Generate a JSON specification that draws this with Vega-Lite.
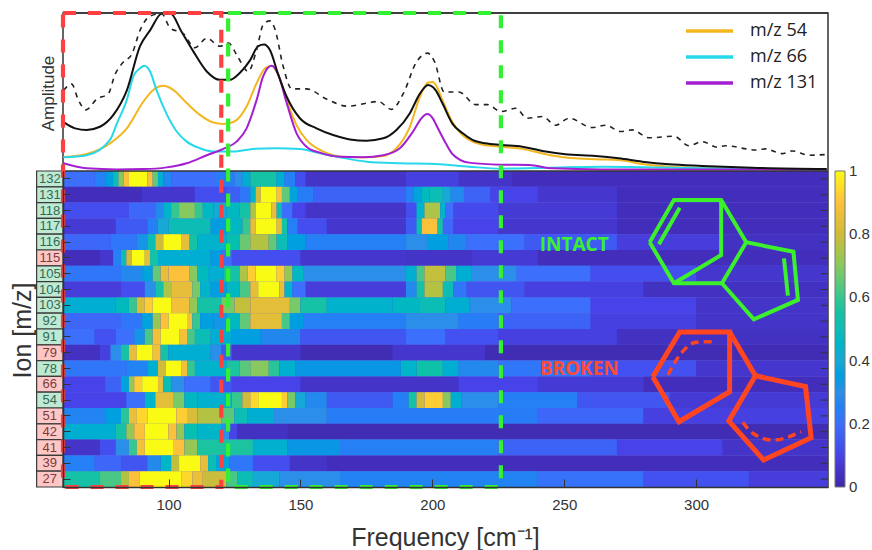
{
"$schema":"https://vega.github.io/schema/vega-lite/v6.json",
"width":765,"height":474,"autosize":{"type":"none"},"padding":{"left":63,"top":13,"right":44,"bottom":63},
"background":"white",
"config":{"view":{"stroke":"#333","strokeWidth":1.5,"fill":"#ffffff"},"font":"Liberation Sans"},
"datasets":{
"ions":[{"m":"132","k":"intact"},{"m":"131","k":"intact"},{"m":"118","k":"intact"},{"m":"117","k":"intact"},{"m":"116","k":"intact"},{"m":"115","k":"broken"},{"m":"105","k":"intact"},{"m":"104","k":"intact"},{"m":"103","k":"intact"},{"m":"92","k":"intact"},{"m":"91","k":"intact"},{"m":"79","k":"broken"},{"m":"78","k":"intact"},{"m":"66","k":"broken"},{"m":"54","k":"intact"},{"m":"51","k":"broken"},{"m":"42","k":"broken"},{"m":"41","k":"broken"},{"m":"39","k":"broken"},{"m":"27","k":"broken"}],
"cells":[
{"m":"132","a":60,"b":72,"v":0.2},{"m":"132","a":72,"b":76,"v":0.25},{"m":"132","a":76,"b":79,"v":0.35},{"m":"132","a":79,"b":81,"v":0.5},{"m":"132","a":81,"b":83,"v":0.7},{"m":"132","a":83,"b":85,"v":0.9},{"m":"132","a":85,"b":92,"v":1},{"m":"132","a":92,"b":94,"v":0.9},{"m":"132","a":94,"b":96,"v":0.65},{"m":"132","a":96,"b":98,"v":0.42},{"m":"132","a":98,"b":101,"v":0.27},{"m":"132","a":101,"b":118,"v":0.2},{"m":"132","a":118,"b":125,"v":0.24},{"m":"132","a":125,"b":128,"v":0.3},{"m":"132","a":128,"b":131,"v":0.42},{"m":"132","a":131,"b":141,"v":0.55},{"m":"132","a":141,"b":144,"v":0.42},{"m":"132","a":144,"b":148,"v":0.25},{"m":"132","a":148,"b":152,"v":0.12},{"m":"132","a":152,"b":190,"v":0.05},{"m":"132","a":190,"b":210,"v":0.09},{"m":"132","a":210,"b":230,"v":0.05},{"m":"132","a":230,"b":350,"v":0.03},
{"m":"131","a":60,"b":90,"v":0.03},{"m":"131","a":90,"b":110,"v":0.06},{"m":"131","a":110,"b":122,"v":0.12},{"m":"131","a":122,"b":127,"v":0.16},{"m":"131","a":127,"b":131,"v":0.22},{"m":"131","a":131,"b":133,"v":0.45},{"m":"131","a":133,"b":135,"v":0.8},{"m":"131","a":135,"b":141,"v":1},{"m":"131","a":141,"b":143,"v":0.9},{"m":"131","a":143,"b":146,"v":0.65},{"m":"131","a":146,"b":149,"v":0.38},{"m":"131","a":149,"b":155,"v":0.24},{"m":"131","a":155,"b":190,"v":0.17},{"m":"131","a":190,"b":193,"v":0.25},{"m":"131","a":193,"b":196,"v":0.38},{"m":"131","a":196,"b":199,"v":0.48},{"m":"131","a":199,"b":204,"v":0.5},{"m":"131","a":204,"b":207,"v":0.4},{"m":"131","a":207,"b":212,"v":0.28},{"m":"131","a":212,"b":222,"v":0.17},{"m":"131","a":222,"b":240,"v":0.1},{"m":"131","a":240,"b":270,"v":0.06},{"m":"131","a":270,"b":350,"v":0.03},
{"m":"118","a":60,"b":85,"v":0.12},{"m":"118","a":85,"b":95,"v":0.18},{"m":"118","a":95,"b":98,"v":0.28},{"m":"118","a":98,"b":101,"v":0.45},{"m":"118","a":101,"b":104,"v":0.6},{"m":"118","a":104,"b":110,"v":0.7},{"m":"118","a":110,"b":113,"v":0.6},{"m":"118","a":113,"b":117,"v":0.47},{"m":"118","a":117,"b":122,"v":0.4},{"m":"118","a":122,"b":127,"v":0.47},{"m":"118","a":127,"b":131,"v":0.55},{"m":"118","a":131,"b":133,"v":0.75},{"m":"118","a":133,"b":139,"v":1},{"m":"118","a":139,"b":141,"v":0.85},{"m":"118","a":141,"b":143,"v":0.5},{"m":"118","a":143,"b":147,"v":0.2},{"m":"118","a":147,"b":152,"v":0.1},{"m":"118","a":152,"b":190,"v":0.05},{"m":"118","a":190,"b":194,"v":0.12},{"m":"118","a":194,"b":197,"v":0.45},{"m":"118","a":197,"b":203,"v":0.75},{"m":"118","a":203,"b":205,"v":0.45},{"m":"118","a":205,"b":208,"v":0.2},{"m":"118","a":208,"b":225,"v":0.11},{"m":"118","a":225,"b":270,"v":0.07},{"m":"118","a":270,"b":350,"v":0.03},
{"m":"117","a":60,"b":80,"v":0.07},{"m":"117","a":80,"b":92,"v":0.15},{"m":"117","a":92,"b":96,"v":0.25},{"m":"117","a":96,"b":100,"v":0.4},{"m":"117","a":100,"b":116,"v":0.5},{"m":"117","a":116,"b":122,"v":0.35},{"m":"117","a":122,"b":128,"v":0.47},{"m":"117","a":128,"b":131,"v":0.6},{"m":"117","a":131,"b":133,"v":0.85},{"m":"117","a":133,"b":141,"v":1},{"m":"117","a":141,"b":143,"v":0.85},{"m":"117","a":143,"b":145,"v":0.55},{"m":"117","a":145,"b":149,"v":0.25},{"m":"117","a":149,"b":160,"v":0.12},{"m":"117","a":160,"b":190,"v":0.06},{"m":"117","a":190,"b":194,"v":0.15},{"m":"117","a":194,"b":196,"v":0.5},{"m":"117","a":196,"b":202,"v":0.9},{"m":"117","a":202,"b":204,"v":0.55},{"m":"117","a":204,"b":208,"v":0.18},{"m":"117","a":208,"b":225,"v":0.1},{"m":"117","a":225,"b":270,"v":0.06},{"m":"117","a":270,"b":350,"v":0.03},
{"m":"116","a":60,"b":78,"v":0.18},{"m":"116","a":78,"b":88,"v":0.22},{"m":"116","a":88,"b":92,"v":0.32},{"m":"116","a":92,"b":95,"v":0.5},{"m":"116","a":95,"b":98,"v":0.8},{"m":"116","a":98,"b":105,"v":1},{"m":"116","a":105,"b":108,"v":0.85},{"m":"116","a":108,"b":111,"v":0.55},{"m":"116","a":111,"b":122,"v":0.44},{"m":"116","a":122,"b":127,"v":0.52},{"m":"116","a":127,"b":131,"v":0.66},{"m":"116","a":131,"b":138,"v":0.76},{"m":"116","a":138,"b":141,"v":0.65},{"m":"116","a":141,"b":145,"v":0.5},{"m":"116","a":145,"b":152,"v":0.36},{"m":"116","a":152,"b":190,"v":0.25},{"m":"116","a":190,"b":198,"v":0.3},{"m":"116","a":198,"b":206,"v":0.36},{"m":"116","a":206,"b":213,"v":0.27},{"m":"116","a":213,"b":235,"v":0.2},{"m":"116","a":235,"b":270,"v":0.15},{"m":"116","a":270,"b":310,"v":0.08},{"m":"116","a":310,"b":350,"v":0.04},
{"m":"115","a":60,"b":74,"v":0.03},{"m":"115","a":74,"b":79,"v":0.06},{"m":"115","a":79,"b":82,"v":0.25},{"m":"115","a":82,"b":84,"v":0.5},{"m":"115","a":84,"b":86,"v":0.8},{"m":"115","a":86,"b":91,"v":1},{"m":"115","a":91,"b":93,"v":0.85},{"m":"115","a":93,"b":96,"v":0.55},{"m":"115","a":96,"b":116,"v":0.42},{"m":"115","a":116,"b":120,"v":0.35},{"m":"115","a":120,"b":124,"v":0.2},{"m":"115","a":124,"b":150,"v":0.12},{"m":"115","a":150,"b":190,"v":0.06},{"m":"115","a":190,"b":215,"v":0.05},{"m":"115","a":215,"b":240,"v":0.07},{"m":"115","a":240,"b":350,"v":0.03},
{"m":"105","a":60,"b":82,"v":0.22},{"m":"105","a":82,"b":90,"v":0.28},{"m":"105","a":90,"b":94,"v":0.38},{"m":"105","a":94,"b":97,"v":0.65},{"m":"105","a":97,"b":100,"v":0.85},{"m":"105","a":100,"b":108,"v":0.9},{"m":"105","a":108,"b":111,"v":0.7},{"m":"105","a":111,"b":115,"v":0.48},{"m":"105","a":115,"b":121,"v":0.42},{"m":"105","a":121,"b":127,"v":0.55},{"m":"105","a":127,"b":130,"v":0.75},{"m":"105","a":130,"b":133,"v":0.92},{"m":"105","a":133,"b":141,"v":1},{"m":"105","a":141,"b":144,"v":0.92},{"m":"105","a":144,"b":147,"v":0.72},{"m":"105","a":147,"b":151,"v":0.47},{"m":"105","a":151,"b":190,"v":0.3},{"m":"105","a":190,"b":194,"v":0.42},{"m":"105","a":194,"b":197,"v":0.62},{"m":"105","a":197,"b":205,"v":0.78},{"m":"105","a":205,"b":209,"v":0.62},{"m":"105","a":209,"b":215,"v":0.42},{"m":"105","a":215,"b":232,"v":0.3},{"m":"105","a":232,"b":260,"v":0.2},{"m":"105","a":260,"b":300,"v":0.12},{"m":"105","a":300,"b":350,"v":0.06},
{"m":"104","a":60,"b":82,"v":0.08},{"m":"104","a":82,"b":91,"v":0.12},{"m":"104","a":91,"b":95,"v":0.3},{"m":"104","a":95,"b":98,"v":0.55},{"m":"104","a":98,"b":101,"v":0.75},{"m":"104","a":101,"b":109,"v":0.85},{"m":"104","a":109,"b":112,"v":0.68},{"m":"104","a":112,"b":116,"v":0.45},{"m":"104","a":116,"b":122,"v":0.36},{"m":"104","a":122,"b":127,"v":0.47},{"m":"104","a":127,"b":131,"v":0.62},{"m":"104","a":131,"b":134,"v":0.85},{"m":"104","a":134,"b":142,"v":1},{"m":"104","a":142,"b":144,"v":0.85},{"m":"104","a":144,"b":147,"v":0.45},{"m":"104","a":147,"b":152,"v":0.2},{"m":"104","a":152,"b":190,"v":0.08},{"m":"104","a":190,"b":194,"v":0.28},{"m":"104","a":194,"b":197,"v":0.55},{"m":"104","a":197,"b":204,"v":0.76},{"m":"104","a":204,"b":208,"v":0.5},{"m":"104","a":208,"b":213,"v":0.22},{"m":"104","a":213,"b":235,"v":0.14},{"m":"104","a":235,"b":280,"v":0.09},{"m":"104","a":280,"b":350,"v":0.04},
{"m":"103","a":60,"b":80,"v":0.42},{"m":"103","a":80,"b":85,"v":0.48},{"m":"103","a":85,"b":88,"v":0.6},{"m":"103","a":88,"b":91,"v":0.82},{"m":"103","a":91,"b":94,"v":0.92},{"m":"103","a":94,"b":101,"v":1},{"m":"103","a":101,"b":108,"v":0.88},{"m":"103","a":108,"b":111,"v":0.72},{"m":"103","a":111,"b":120,"v":0.55},{"m":"103","a":120,"b":125,"v":0.68},{"m":"103","a":125,"b":131,"v":0.78},{"m":"103","a":131,"b":146,"v":0.84},{"m":"103","a":146,"b":150,"v":0.68},{"m":"103","a":150,"b":160,"v":0.55},{"m":"103","a":160,"b":185,"v":0.44},{"m":"103","a":185,"b":195,"v":0.47},{"m":"103","a":195,"b":205,"v":0.5},{"m":"103","a":205,"b":214,"v":0.42},{"m":"103","a":214,"b":230,"v":0.3},{"m":"103","a":230,"b":260,"v":0.2},{"m":"103","a":260,"b":300,"v":0.1},{"m":"103","a":300,"b":350,"v":0.05},
{"m":"92","a":60,"b":82,"v":0.18},{"m":"92","a":82,"b":90,"v":0.22},{"m":"92","a":90,"b":94,"v":0.38},{"m":"92","a":94,"b":97,"v":0.72},{"m":"92","a":97,"b":100,"v":0.9},{"m":"92","a":100,"b":107,"v":1},{"m":"92","a":107,"b":109,"v":0.88},{"m":"92","a":109,"b":112,"v":0.6},{"m":"92","a":112,"b":117,"v":0.36},{"m":"92","a":117,"b":122,"v":0.32},{"m":"92","a":122,"b":127,"v":0.47},{"m":"92","a":127,"b":131,"v":0.65},{"m":"92","a":131,"b":143,"v":0.84},{"m":"92","a":143,"b":146,"v":0.62},{"m":"92","a":146,"b":151,"v":0.35},{"m":"92","a":151,"b":190,"v":0.25},{"m":"92","a":190,"b":210,"v":0.3},{"m":"92","a":210,"b":225,"v":0.24},{"m":"92","a":225,"b":260,"v":0.17},{"m":"92","a":260,"b":300,"v":0.09},{"m":"92","a":300,"b":350,"v":0.05},
{"m":"91","a":60,"b":72,"v":0.2},{"m":"91","a":72,"b":80,"v":0.13},{"m":"91","a":80,"b":87,"v":0.2},{"m":"91","a":87,"b":91,"v":0.32},{"m":"91","a":91,"b":94,"v":0.62},{"m":"91","a":94,"b":97,"v":0.88},{"m":"91","a":97,"b":104,"v":1},{"m":"91","a":104,"b":107,"v":0.88},{"m":"91","a":107,"b":110,"v":0.62},{"m":"91","a":110,"b":116,"v":0.5},{"m":"91","a":116,"b":124,"v":0.42},{"m":"91","a":124,"b":135,"v":0.36},{"m":"91","a":135,"b":150,"v":0.27},{"m":"91","a":150,"b":190,"v":0.14},{"m":"91","a":190,"b":205,"v":0.2},{"m":"91","a":205,"b":225,"v":0.13},{"m":"91","a":225,"b":270,"v":0.09},{"m":"91","a":270,"b":350,"v":0.04},
{"m":"79","a":60,"b":74,"v":0.04},{"m":"79","a":74,"b":78,"v":0.09},{"m":"79","a":78,"b":82,"v":0.3},{"m":"79","a":82,"b":85,"v":0.55},{"m":"79","a":85,"b":88,"v":0.85},{"m":"79","a":88,"b":94,"v":1},{"m":"79","a":94,"b":97,"v":0.88},{"m":"79","a":97,"b":100,"v":0.55},{"m":"79","a":100,"b":116,"v":0.42},{"m":"79","a":116,"b":120,"v":0.3},{"m":"79","a":120,"b":124,"v":0.15},{"m":"79","a":124,"b":150,"v":0.06},{"m":"79","a":150,"b":185,"v":0.02},{"m":"79","a":185,"b":220,"v":0.06},{"m":"79","a":220,"b":350,"v":0.02},
{"m":"78","a":60,"b":84,"v":0.22},{"m":"78","a":84,"b":92,"v":0.26},{"m":"78","a":92,"b":96,"v":0.42},{"m":"78","a":96,"b":99,"v":0.8},{"m":"78","a":99,"b":105,"v":1},{"m":"78","a":105,"b":107,"v":0.88},{"m":"78","a":107,"b":110,"v":0.6},{"m":"78","a":110,"b":122,"v":0.44},{"m":"78","a":122,"b":127,"v":0.56},{"m":"78","a":127,"b":131,"v":0.64},{"m":"78","a":131,"b":138,"v":0.7},{"m":"78","a":138,"b":142,"v":0.58},{"m":"78","a":142,"b":148,"v":0.43},{"m":"78","a":148,"b":188,"v":0.33},{"m":"78","a":188,"b":194,"v":0.45},{"m":"78","a":194,"b":204,"v":0.54},{"m":"78","a":204,"b":210,"v":0.42},{"m":"78","a":210,"b":225,"v":0.28},{"m":"78","a":225,"b":260,"v":0.22},{"m":"78","a":260,"b":300,"v":0.13},{"m":"78","a":300,"b":350,"v":0.06},
{"m":"66","a":60,"b":76,"v":0.1},{"m":"66","a":76,"b":82,"v":0.17},{"m":"66","a":82,"b":85,"v":0.38},{"m":"66","a":85,"b":87,"v":0.72},{"m":"66","a":87,"b":90,"v":0.92},{"m":"66","a":90,"b":96,"v":1},{"m":"66","a":96,"b":98,"v":0.85},{"m":"66","a":98,"b":101,"v":0.5},{"m":"66","a":101,"b":106,"v":0.3},{"m":"66","a":106,"b":116,"v":0.2},{"m":"66","a":116,"b":124,"v":0.14},{"m":"66","a":124,"b":150,"v":0.1},{"m":"66","a":150,"b":210,"v":0.05},{"m":"66","a":210,"b":240,"v":0.1},{"m":"66","a":240,"b":280,"v":0.07},{"m":"66","a":280,"b":350,"v":0.03},
{"m":"54","a":60,"b":84,"v":0.1},{"m":"54","a":84,"b":91,"v":0.2},{"m":"54","a":91,"b":95,"v":0.45},{"m":"54","a":95,"b":102,"v":0.84},{"m":"54","a":102,"b":106,"v":0.68},{"m":"54","a":106,"b":111,"v":0.47},{"m":"54","a":111,"b":124,"v":0.43},{"m":"54","a":124,"b":128,"v":0.6},{"m":"54","a":128,"b":131,"v":0.8},{"m":"54","a":131,"b":134,"v":0.94},{"m":"54","a":134,"b":143,"v":1},{"m":"54","a":143,"b":145,"v":0.92},{"m":"54","a":145,"b":148,"v":0.68},{"m":"54","a":148,"b":152,"v":0.4},{"m":"54","a":152,"b":160,"v":0.28},{"m":"54","a":160,"b":185,"v":0.15},{"m":"54","a":185,"b":191,"v":0.25},{"m":"54","a":191,"b":194,"v":0.55},{"m":"54","a":194,"b":197,"v":0.8},{"m":"54","a":197,"b":204,"v":0.92},{"m":"54","a":204,"b":207,"v":0.7},{"m":"54","a":207,"b":211,"v":0.42},{"m":"54","a":211,"b":225,"v":0.3},{"m":"54","a":225,"b":255,"v":0.25},{"m":"54","a":255,"b":290,"v":0.14},{"m":"54","a":290,"b":350,"v":0.07},
{"m":"51","a":60,"b":76,"v":0.26},{"m":"51","a":76,"b":82,"v":0.36},{"m":"51","a":82,"b":85,"v":0.58},{"m":"51","a":85,"b":88,"v":0.86},{"m":"51","a":88,"b":92,"v":0.94},{"m":"51","a":92,"b":103,"v":1},{"m":"51","a":103,"b":107,"v":0.92},{"m":"51","a":107,"b":111,"v":0.82},{"m":"51","a":111,"b":120,"v":0.76},{"m":"51","a":120,"b":125,"v":0.64},{"m":"51","a":125,"b":130,"v":0.5},{"m":"51","a":130,"b":140,"v":0.42},{"m":"51","a":140,"b":160,"v":0.3},{"m":"51","a":160,"b":240,"v":0.24},{"m":"51","a":240,"b":280,"v":0.18},{"m":"51","a":280,"b":350,"v":0.09},
{"m":"42","a":60,"b":80,"v":0.42},{"m":"42","a":80,"b":84,"v":0.55},{"m":"42","a":84,"b":87,"v":0.72},{"m":"42","a":87,"b":91,"v":0.9},{"m":"42","a":91,"b":100,"v":1},{"m":"42","a":100,"b":103,"v":0.9},{"m":"42","a":103,"b":106,"v":0.72},{"m":"42","a":106,"b":111,"v":0.52},{"m":"42","a":111,"b":120,"v":0.45},{"m":"42","a":120,"b":123,"v":0.3},{"m":"42","a":123,"b":126,"v":0.1},{"m":"42","a":126,"b":145,"v":0.04},{"m":"42","a":145,"b":350,"v":0.02},
{"m":"41","a":60,"b":74,"v":0.05},{"m":"41","a":74,"b":80,"v":0.12},{"m":"41","a":80,"b":85,"v":0.3},{"m":"41","a":85,"b":88,"v":0.6},{"m":"41","a":88,"b":91,"v":0.88},{"m":"41","a":91,"b":102,"v":1},{"m":"41","a":102,"b":106,"v":0.9},{"m":"41","a":106,"b":111,"v":0.72},{"m":"41","a":111,"b":132,"v":0.56},{"m":"41","a":132,"b":145,"v":0.43},{"m":"41","a":145,"b":165,"v":0.33},{"m":"41","a":165,"b":225,"v":0.25},{"m":"41","a":225,"b":270,"v":0.17},{"m":"41","a":270,"b":310,"v":0.1},{"m":"41","a":310,"b":350,"v":0.05},
{"m":"39","a":60,"b":72,"v":0.25},{"m":"39","a":72,"b":82,"v":0.18},{"m":"39","a":82,"b":92,"v":0.14},{"m":"39","a":92,"b":97,"v":0.28},{"m":"39","a":97,"b":101,"v":0.45},{"m":"39","a":101,"b":104,"v":0.78},{"m":"39","a":104,"b":112,"v":1},{"m":"39","a":112,"b":115,"v":0.85},{"m":"39","a":115,"b":118,"v":0.5},{"m":"39","a":118,"b":123,"v":0.38},{"m":"39","a":123,"b":132,"v":0.22},{"m":"39","a":132,"b":146,"v":0.12},{"m":"39","a":146,"b":160,"v":0.05},{"m":"39","a":160,"b":350,"v":0.03},
{"m":"27","a":60,"b":74,"v":0.55},{"m":"27","a":74,"b":82,"v":0.62},{"m":"27","a":82,"b":85,"v":0.76},{"m":"27","a":85,"b":89,"v":0.9},{"m":"27","a":89,"b":105,"v":1},{"m":"27","a":105,"b":109,"v":0.94},{"m":"27","a":109,"b":113,"v":0.86},{"m":"27","a":113,"b":122,"v":0.79},{"m":"27","a":122,"b":126,"v":0.62},{"m":"27","a":126,"b":132,"v":0.5},{"m":"27","a":132,"b":142,"v":0.4},{"m":"27","a":142,"b":165,"v":0.3},{"m":"27","a":165,"b":240,"v":0.26},{"m":"27","a":240,"b":280,"v":0.21},{"m":"27","a":280,"b":320,"v":0.13},{"m":"27","a":320,"b":350,"v":0.08}
],
"lines":[
{"s":"m/z 54","f":60.2,"y":8.9},{"s":"m/z 54","f":69,"y":10.8},{"s":"m/z 54","f":77.8,"y":17.5},{"s":"m/z 54","f":84.2,"y":27},{"s":"m/z 54","f":90.5,"y":44},{"s":"m/z 54","f":94.3,"y":51.4},{"s":"m/z 54","f":98,"y":53.9},{"s":"m/z 54","f":101.8,"y":51.4},{"s":"m/z 54","f":106.9,"y":43},{"s":"m/z 54","f":111.9,"y":35.5},{"s":"m/z 54","f":117,"y":30.7},{"s":"m/z 54","f":120.8,"y":29.8},{"s":"m/z 54","f":124.6,"y":31},{"s":"m/z 54","f":129.6,"y":40.8},{"s":"m/z 54","f":133.4,"y":55.6},{"s":"m/z 54","f":136.6,"y":65},{"s":"m/z 54","f":139.1,"y":66.6},{"s":"m/z 54","f":141.6,"y":60.9},{"s":"m/z 54","f":144.8,"y":45},{"s":"m/z 54","f":148.5,"y":29},{"s":"m/z 54","f":152.3,"y":19.7},{"s":"m/z 54","f":157.4,"y":13.3},{"s":"m/z 54","f":162.4,"y":10},{"s":"m/z 54","f":168.8,"y":8.7},{"s":"m/z 54","f":175.1,"y":8.7},{"s":"m/z 54","f":181.4,"y":9.5},{"s":"m/z 54","f":186.4,"y":14.4},{"s":"m/z 54","f":191.5,"y":28},{"s":"m/z 54","f":195.3,"y":47},{"s":"m/z 54","f":198.4,"y":56},{"s":"m/z 54","f":200.3,"y":56.4},{"s":"m/z 54","f":201.3,"y":54.5},{"s":"m/z 54","f":203.8,"y":45},{"s":"m/z 54","f":207.6,"y":31},{"s":"m/z 54","f":211.4,"y":22.8},{"s":"m/z 54","f":215.2,"y":18.6},{"s":"m/z 54","f":220.2,"y":16.3},{"s":"m/z 54","f":226,"y":15.4},{"s":"m/z 54","f":234.1,"y":14},{"s":"m/z 54","f":243,"y":10.6},{"s":"m/z 54","f":250.5,"y":8.5},{"s":"m/z 54","f":261.9,"y":7.4},{"s":"m/z 54","f":270.7,"y":7},{"s":"m/z 54","f":279.6,"y":4.4},{"s":"m/z 54","f":289.7,"y":2.7},{"s":"m/z 54","f":302.3,"y":1.9},{"s":"m/z 54","f":321.2,"y":1.3},{"s":"m/z 54","f":349.5,"y":1},
{"s":"m/z 66","f":60.2,"y":8.7},{"s":"m/z 66","f":69,"y":10},{"s":"m/z 66","f":77.8,"y":19.7},{"s":"m/z 66","f":80.4,"y":30},{"s":"m/z 66","f":84.2,"y":45},{"s":"m/z 66","f":86.7,"y":60},{"s":"m/z 66","f":89.2,"y":65},{"s":"m/z 66","f":90.8,"y":66.6},{"s":"m/z 66","f":93,"y":63},{"s":"m/z 66","f":95.5,"y":51},{"s":"m/z 66","f":99.3,"y":36},{"s":"m/z 66","f":103.1,"y":25},{"s":"m/z 66","f":106.9,"y":18.6},{"s":"m/z 66","f":111.9,"y":14.4},{"s":"m/z 66","f":117,"y":12.3},{"s":"m/z 66","f":124.6,"y":12.3},{"s":"m/z 66","f":132.1,"y":14},{"s":"m/z 66","f":141,"y":14.4},{"s":"m/z 66","f":149.8,"y":14},{"s":"m/z 66","f":157.4,"y":11.2},{"s":"m/z 66","f":165,"y":8.7},{"s":"m/z 66","f":175.1,"y":5.9},{"s":"m/z 66","f":187.7,"y":4.9},{"s":"m/z 66","f":201.3,"y":4.4},{"s":"m/z 66","f":213.9,"y":2.7},{"s":"m/z 66","f":226,"y":1.5},{"s":"m/z 66","f":264.4,"y":2.7},{"s":"m/z 66","f":302.3,"y":1.7},{"s":"m/z 66","f":349.5,"y":1},
{"s":"m/z 131","f":60.2,"y":4.9},{"s":"m/z 131","f":69,"y":1.7},{"s":"m/z 131","f":80.4,"y":1},{"s":"m/z 131","f":90.5,"y":1.2},{"s":"m/z 131","f":99.3,"y":2.3},{"s":"m/z 131","f":106.9,"y":4.9},{"s":"m/z 131","f":114.5,"y":10},{"s":"m/z 131","f":120.8,"y":14},{"s":"m/z 131","f":125.8,"y":18.6},{"s":"m/z 131","f":129.6,"y":27},{"s":"m/z 131","f":133.4,"y":45},{"s":"m/z 131","f":135.9,"y":60},{"s":"m/z 131","f":139.1,"y":66.6},{"s":"m/z 131","f":141.6,"y":61},{"s":"m/z 131","f":144.8,"y":43},{"s":"m/z 131","f":148.5,"y":24},{"s":"m/z 131","f":152.3,"y":15.4},{"s":"m/z 131","f":157.4,"y":11.6},{"s":"m/z 131","f":165,"y":9},{"s":"m/z 131","f":173.8,"y":8.7},{"s":"m/z 131","f":181.4,"y":10},{"s":"m/z 131","f":187.7,"y":14.4},{"s":"m/z 131","f":192.7,"y":25},{"s":"m/z 131","f":195.9,"y":33.4},{"s":"m/z 131","f":198,"y":36},{"s":"m/z 131","f":200.3,"y":33},{"s":"m/z 131","f":201.3,"y":29.8},{"s":"m/z 131","f":205.1,"y":17.5},{"s":"m/z 131","f":207.6,"y":10.8},{"s":"m/z 131","f":213.9,"y":5.3},{"s":"m/z 131","f":226,"y":4},{"s":"m/z 131","f":236.7,"y":3.8},{"s":"m/z 131","f":245.5,"y":1.7},{"s":"m/z 131","f":264.4,"y":1},{"s":"m/z 131","f":349.5,"y":1}
],
"totals":[
{"k":"s","f":60.2,"y":30.9},{"k":"s","f":64.6,"y":27},{"k":"s","f":69,"y":26},{"k":"s","f":74,"y":28},{"k":"s","f":79.1,"y":35.5},{"k":"s","f":84.2,"y":51},{"k":"s","f":89.2,"y":79},{"k":"s","f":93,"y":89},{"k":"s","f":97.4,"y":99.6},{"k":"s","f":100.6,"y":100},{"k":"s","f":105,"y":88},{"k":"s","f":109.4,"y":75.7},{"k":"s","f":114.5,"y":63},{"k":"s","f":119.5,"y":57.7},{"k":"s","f":123.3,"y":57.7},{"k":"s","f":127,"y":62},{"k":"s","f":130.9,"y":70},{"k":"s","f":134,"y":79},{"k":"s","f":136.2,"y":80},{"k":"s","f":138.4,"y":76.7},{"k":"s","f":141.6,"y":61},{"k":"s","f":144.8,"y":47},{"k":"s","f":149.8,"y":33.4},{"k":"s","f":156.1,"y":27},{"k":"s","f":162.4,"y":22.8},{"k":"s","f":168.8,"y":20},{"k":"s","f":175.1,"y":19.2},{"k":"s","f":181.4,"y":20.7},{"k":"s","f":186.4,"y":26},{"k":"s","f":191.5,"y":36.6},{"k":"s","f":195.3,"y":49},{"k":"s","f":198.4,"y":54.5},{"k":"s","f":200.3,"y":53},{"k":"s","f":201.3,"y":51},{"k":"s","f":203.8,"y":43},{"k":"s","f":207.6,"y":30},{"k":"s","f":211.4,"y":24},{"k":"s","f":215.2,"y":19.7},{"k":"s","f":220.2,"y":17.5},{"k":"s","f":226,"y":16.5},{"k":"s","f":234.1,"y":15.4},{"k":"s","f":243,"y":12.3},{"k":"s","f":250.5,"y":10.6},{"k":"s","f":261.9,"y":9.5},{"k":"s","f":270.7,"y":8},{"k":"s","f":279.6,"y":5.9},{"k":"s","f":289.7,"y":4.2},{"k":"s","f":302.3,"y":3.2},{"k":"s","f":321.2,"y":2.1},{"k":"s","f":349.5,"y":1.3},
{"k":"d","f":60.2,"y":51},{"k":"d","f":63.3,"y":55},{"k":"d","f":65.8,"y":45},{"k":"d","f":68.7,"y":38.7},{"k":"d","f":72.8,"y":45.5},{"k":"d","f":77.2,"y":49},{"k":"d","f":79.7,"y":61},{"k":"d","f":82.9,"y":69},{"k":"d","f":86,"y":73.6},{"k":"d","f":89.2,"y":89},{"k":"d","f":93,"y":98},{"k":"d","f":97.4,"y":99.6},{"k":"d","f":100.6,"y":90.5},{"k":"d","f":105.6,"y":87},{"k":"d","f":110,"y":78},{"k":"d","f":114.5,"y":84},{"k":"d","f":119.5,"y":79},{"k":"d","f":122.7,"y":81},{"k":"d","f":126.5,"y":71.5},{"k":"d","f":130.2,"y":63},{"k":"d","f":133.4,"y":76.7},{"k":"d","f":135.9,"y":92.6},{"k":"d","f":138.4,"y":95},{"k":"d","f":140.3,"y":90},{"k":"d","f":143.5,"y":66},{"k":"d","f":146.7,"y":52},{"k":"d","f":152.3,"y":52},{"k":"d","f":159.9,"y":45.5},{"k":"d","f":168.1,"y":41},{"k":"d","f":175.1,"y":43},{"k":"d","f":179.5,"y":44},{"k":"d","f":184.5,"y":39},{"k":"d","f":189,"y":49},{"k":"d","f":194,"y":69},{"k":"d","f":198.2,"y":74.6},{"k":"d","f":200.9,"y":69},{"k":"d","f":204.5,"y":50},{"k":"d","f":210.1,"y":50},{"k":"d","f":216.5,"y":42},{"k":"d","f":220.9,"y":42},{"k":"d","f":226,"y":37.6},{"k":"d","f":231.6,"y":39.7},{"k":"d","f":236,"y":33.4},{"k":"d","f":241.7,"y":34.5},{"k":"d","f":246.8,"y":29},{"k":"d","f":251.8,"y":33.4},{"k":"d","f":260.6,"y":27.5},{"k":"d","f":265.7,"y":29},{"k":"d","f":271.4,"y":25},{"k":"d","f":275.8,"y":26},{"k":"d","f":282.1,"y":21},{"k":"d","f":291.6,"y":22},{"k":"d","f":297.3,"y":16},{"k":"d","f":302.3,"y":18.6},{"k":"d","f":308,"y":15},{"k":"d","f":311.1,"y":16},{"k":"d","f":322.5,"y":13.3},{"k":"d","f":326.3,"y":14},{"k":"d","f":332.6,"y":11},{"k":"d","f":336.4,"y":12.7},{"k":"d","f":342.7,"y":10},{"k":"d","f":349,"y":10.4}
],
"mol":[
{"c":"g","p":1,"o":1,"f":282.4,"r":15.49},{"c":"g","p":1,"o":2,"f":291.6,"r":18.16},{"c":"g","p":1,"o":3,"f":309.5,"r":18.16},{"c":"g","p":1,"o":4,"f":319,"r":15.49},{"c":"g","p":1,"o":5,"f":336.9,"r":14.89},{"c":"g","p":1,"o":6,"f":338.6,"r":11.84},{"c":"g","p":1,"o":7,"f":321.9,"r":10.61},{"c":"g","p":1,"o":8,"f":309.8,"r":12.89},{"c":"g","p":1,"o":9,"f":319,"r":15.49},
{"c":"g","p":2,"o":1,"f":309.5,"r":18.16},{"c":"g","p":2,"o":2,"f":309.5,"r":14.68},{"c":"g","p":2,"o":3,"f":291.6,"r":12.89},
{"c":"g","p":3,"o":1,"f":282.4,"r":15.49},{"c":"g","p":3,"o":2,"f":291.6,"r":12.89},{"c":"g","p":3,"o":3,"f":309.8,"r":12.89},
{"c":"g","p":4,"o":1,"f":293.8,"r":17.68},{"c":"g","p":4,"o":2,"f":285.9,"r":15.36},
{"c":"g","p":5,"o":1,"f":333.3,"r":14.47},{"c":"g","p":5,"o":2,"f":334.8,"r":12.11},
{"c":"r","p":6,"o":1,"f":283.6,"r":6.98},{"c":"r","p":6,"o":2,"f":293.8,"r":9.81},{"c":"r","p":6,"o":3,"f":312.7,"r":9.81},{"c":"r","p":6,"o":4,"f":312.7,"r":6.03},{"c":"r","p":6,"o":5,"f":293.5,"r":4.13},{"c":"r","p":6,"o":6,"f":283.6,"r":6.98},
{"c":"r","p":7,"o":1,"f":312.7,"r":9.81},{"c":"r","p":7,"o":2,"f":322.5,"r":7.04},{"c":"r","p":7,"o":3,"f":341.5,"r":6.35},{"c":"r","p":7,"o":4,"f":343.6,"r":3.12},{"c":"r","p":7,"o":5,"f":325.6,"r":1.71},{"c":"r","p":7,"o":6,"f":312.4,"r":4.18},{"c":"r","p":7,"o":7,"f":322.5,"r":7.04},
{"c":"a","p":8,"o":1,"f":289.3,"r":7.09},{"c":"a","p":8,"o":2,"f":293.8,"r":8.35},{"c":"a","p":8,"o":3,"f":300.1,"r":9.16},{"c":"a","p":8,"o":4,"f":307.6,"r":9.2},
{"c":"a","p":9,"o":1,"f":317.7,"r":4.09},{"c":"a","p":9,"o":2,"f":321.5,"r":3.4},{"c":"a","p":9,"o":3,"f":329.1,"r":2.97},{"c":"a","p":9,"o":4,"f":339.8,"r":3.5}
],
"ticks":[{"f":100},{"f":150},{"f":200},{"f":250},{"f":300}]
},
"layer":[
{"encoding":{"y":{"field":"m","type":"nominal","scale":{"type":"band","domain":["132","131","118","117","116","115","105","104","103","92","91","79","78","66","54","51","42","41","39","27"],"range":[158,474],"paddingInner":0,"paddingOuter":0},
 "axis":{"title":"Ion [m/z]","labels":false,"tickSize":-7,"tickColor":"#333","domain":true,"domainColor":"#333","domainWidth":1.5,"grid":false,"zindex":1,"titleFont":"Liberation Sans","titleFontSize":25,"titleFontWeight":"normal","titleColor":"#333","titleX":-41,"titleY":317,"titleBaseline":"middle","titleAlign":"center","titleAngle":-90}}},
 "layer":[
 {"data":{"name":"ions"},"mark":{"type":"rect","fill":"#3f48d8"},"encoding":{"x":{"datum":60,"type":"quantitative","scale":{"domain":[60,350],"nice":false,"zero":false},
   "axis":{"title":"Frequency [cm⁻¹]","values":[100,150,200,250,300],"tickSize":-8,"tickColor":"#333","labelFont":"Liberation Sans","labelFontSize":15,"labelColor":"#333","labelPadding":18,"domainColor":"#333","domainWidth":1.5,"grid":false,"zindex":1,"titleFont":"Liberation Sans","titleFontSize":25,"titleFontWeight":"normal","titleColor":"#333","titleX":382,"titleY":50,"titleBaseline":"middle","titleAlign":"center"}},"x2":{"datum":350}}},
 {"data":{"name":"cells"},"mark":{"type":"rect"},"encoding":{
  "x":{"field":"a","type":"quantitative"},
  "x2":{"field":"b"},
  "color":{"field":"v","type":"quantitative","scale":{"domain":[0,0.1,0.2,0.3,0.4,0.5,0.6,0.7,0.8,0.9,1],"range":["#3e26a8","#4743e8","#3c6ffb","#2b8ee8","#17a9d5","#0cbdb6","#36c690","#87c95f","#d1bb3a","#fcc13a","#f9fb15"]},
   "legend":{"orient":"none","legendX":772,"legendY":158,"title":null,"gradientLength":316,"gradientThickness":10,"values":[0,0.2,0.4,0.6,0.8,1],"labelExpr":"''+datum.value","labelFont":"Liberation Sans","labelFontSize":15,"labelColor":"#333","labelOffset":4,"gradientStrokeColor":"#777","gradientStrokeWidth":1,"tickCount":6,"encode":{"labels":{"update":{"baseline":{"value":"middle"}}}}}}}},
 {"data":{"name":"ions"},"mark":{"type":"rect","stroke":"#3a3a3a","strokeWidth":1.2},"encoding":{"x":{"datum":50,"type":"quantitative"},"x2":{"datum":60},
  "fill":{"condition":{"test":"datum.k==='broken'","value":"#ffc6c6"},"value":"#bfe9d3"}}},
 {"data":{"name":"ions"},"mark":{"type":"text","font":"Liberation Sans","fontSize":13,"align":"center","baseline":"middle"},"encoding":{"x":{"datum":55,"type":"quantitative"},"text":{"field":"m"},
  "fill":{"condition":{"test":"datum.k==='broken'","value":"#7a3c3c"},"value":"#2f6a52"}}},
 {"data":{"name":"ions"},"mark":{"type":"rule","color":"#333","strokeWidth":1},"encoding":{"x":{"datum":347.3,"type":"quantitative"},"x2":{"datum":350}}}
 ]},
{"encoding":{"y":{"field":"y","type":"quantitative","scale":{"domain":[0,100],"range":[158,0],"nice":false,"zero":false},
  "axis":{"orient":"left","title":"Amplitude","labels":false,"ticks":false,"domain":false,"grid":false,"titleFont":"Liberation Sans","titleFontSize":17,"titleFontWeight":"normal","titleColor":"#333","titleX":-15,"titleY":80,"titleBaseline":"middle","titleAlign":"center","titleAngle":-90}}},
 "layer":[
 {"data":{"name":"lines"},"mark":{"type":"line","strokeWidth":2,"interpolate":"monotone"},"encoding":{"x":{"field":"f","type":"quantitative"},
  "stroke":{"field":"s","type":"nominal","scale":{"domain":["m/z 54","m/z 66","m/z 131"],"range":["#f2b61f","#27d8ea","#a41fd1"]},
   "legend":{"orient":"none","legendX":621,"legendY":9,"title":null,"symbolType":"stroke","symbolSize":2209,"symbolStrokeWidth":3.5,"clipHeight":18,"rowPadding":8,"labelFont":"Open Sans","labelFontSize":18,"labelColor":"#222","labelOffset":15}}}},
 {"data":{"name":"totals"},"transform":[{"filter":"datum.k==='s'"}],"mark":{"type":"line","strokeWidth":2,"color":"#111","interpolate":"monotone"},"encoding":{"x":{"field":"f","type":"quantitative"}}},
 {"data":{"name":"totals"},"transform":[{"filter":"datum.k==='d'"}],"mark":{"type":"line","strokeWidth":1.6,"color":"#222","strokeDash":[5,5],"interpolate":"monotone"},"encoding":{"x":{"field":"f","type":"quantitative"}}},
 {"data":{"values":[{"y":0},{"y":100}]},"mark":{"type":"rule","color":"#333","strokeWidth":1.5},"encoding":{}}
 ]},
{"encoding":{"y":{"field":"r","type":"quantitative","scale":{"domain":[0,20],"range":[474,158],"nice":false,"zero":false},"axis":null}},
 "layer":[
 {"data":{"name":"ticks"},"mark":{"type":"rule","color":"#333","strokeWidth":1},"encoding":{"x":{"field":"f","type":"quantitative"},"y":{"datum":20,"type":"quantitative","axis":null},"y2":{"datum":19.5}}},
 {"data":{"name":"mol"},"transform":[{"filter":"datum.c==='g'"}],"mark":{"type":"line","color":"#3cf02c","strokeWidth":4,"strokeJoin":"miter"},"encoding":{"x":{"field":"f","type":"quantitative"},"detail":{"field":"p"},"order":{"field":"o"}}},
 {"data":{"name":"mol"},"transform":[{"filter":"datum.c==='r'"}],"mark":{"type":"line","color":"#ff4620","strokeWidth":5,"strokeJoin":"miter"},"encoding":{"x":{"field":"f","type":"quantitative"},"detail":{"field":"p"},"order":{"field":"o"}}},
 {"data":{"name":"mol"},"transform":[{"filter":"datum.c==='a'"}],"mark":{"type":"line","color":"#ff4620","strokeWidth":3.4,"strokeDash":[8,5],"interpolate":"monotone"},"encoding":{"x":{"field":"f","type":"quantitative"},"detail":{"field":"p"},"order":{"field":"o"}}},
 {"data":{"values":[{"t":"INTACT","f":240.7,"r":15.3,"c":"g"},{"t":"BROKEN","f":240.7,"r":7.47,"c":"r"}]},"mark":{"type":"text","font":"Open Sans","fontWeight":"bold","fontSize":19,"align":"left","baseline":"middle"},"encoding":{"x":{"field":"f","type":"quantitative"},"text":{"field":"t"},"fill":{"condition":{"test":"datum.c==='g'","value":"#3cf02c"},"value":"#ff4a38"}}}
 ]},
{"mark":{"type":"rect","fillOpacity":0,"stroke":"#ff4040","strokeWidth":4.2,"strokeDash":[13,12]},"data":{"values":[{"a":60,"b":120}]},"encoding":{"x":{"field":"a","type":"quantitative"},"x2":{"field":"b"}}},
{"mark":{"type":"rect","fillOpacity":0,"stroke":"#33f033","strokeWidth":4.2,"strokeDash":[13,12]},"data":{"values":[{"a":122.6,"b":226}]},"encoding":{"x":{"field":"a","type":"quantitative"},"x2":{"field":"b"}}}
],
"resolve":{"scale":{"y":"independent","color":"independent","stroke":"independent"},"axis":{"y":"independent"}}
}
